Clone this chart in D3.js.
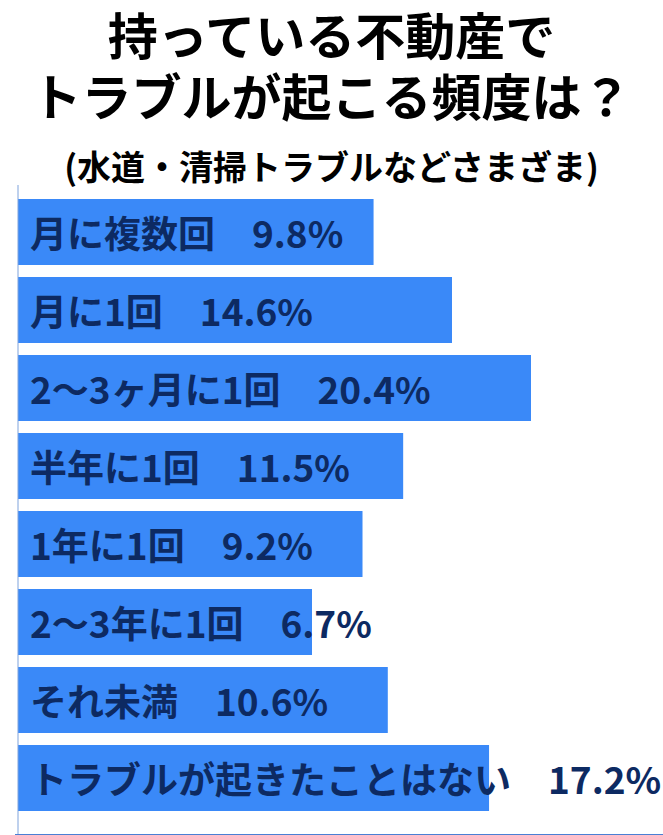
<!DOCTYPE html>
<html>
<head>
<meta charset="utf-8">
<script src="https://cdn.jsdelivr.net/npm/d3@7"></script>
<style>
  body { margin: 0; background: #fff; }
  svg text { font-family: "Noto Sans CJK JP", "Noto Sans", sans-serif; font-weight: bold; }
</style>
</head>
<body>
<svg id="chart" width="663" height="835"></svg>
<script>
// data
const titleLines = ['持っている不動産で', 'トラブルが起こる頻度は？'];
const subtitle = '(水道・清掃トラブルなどさまざま)';
const categories = ['月に複数回', '月に1回', '2～3ヶ月に1回', '半年に1回', '1年に1回', '2～3年に1回', 'それ未満', 'トラブルが起きたことはない'];
const percents = [9.8, 14.6, 20.4, 11.5, 9.2, 6.7, 10.6, 17.2];

const svg = d3.select('#chart'),
    width = +svg.attr('width'),
    height = +svg.attr('height'),
    left = 18;

// title
svg.selectAll('.title')
    .data(titleLines)
    .enter().append('text')
    .attr('class', 'title')
    .attr('x', width / 2)
    .attr('y', (d, i) => 33 + i * 61)
    .attr('text-anchor', 'middle')
    .attr('dominant-baseline', 'central')
    .attr('font-size', 50)
    .attr('fill', '#000')
    .text(d => d);

svg.append('text')
    .attr('x', width / 2)
    .attr('y', 165)
    .attr('text-anchor', 'middle')
    .attr('dominant-baseline', 'central')
    .attr('font-size', 34)
    .attr('fill', '#000')
    .text(subtitle);

// scales
const y = d3.scaleBand()
    .domain(categories)
    .range([193, 817])
    .paddingInner(0.154)
    .paddingOuter(0.077);

const x = d3.scaleSqrt()
    .domain([0, d3.max(percents)])
    .range([0, 513]);

const rows = categories.map((c, i) => ({ cat: c, value: percents[i] }));

// bars
svg.selectAll('.bar')
    .data(rows)
    .enter().append('rect')
    .attr('class', 'bar')
    .attr('x', left)
    .attr('y', d => y(d.cat))
    .attr('width', d => x(d.value))
    .attr('height', y.bandwidth())
    .attr('fill', '#3a89f8');

// axis lines
svg.append('line')
    .attr('x1', left).attr('x2', left)
    .attr('y1', 185).attr('y2', 834)
    .attr('stroke', '#7fa3dc')
    .attr('stroke-width', 1);

svg.append('line')
    .attr('x1', 15).attr('x2', width)
    .attr('y1', 834.5).attr('y2', 834.5)
    .attr('stroke', '#4a7fd4')
    .attr('stroke-width', 1);

// labels: category, wide gap, value
svg.selectAll('.bar-label')
    .data(rows)
    .enter().append('text')
    .attr('class', 'bar-label')
    .attr('x', 30)
    .attr('y', d => y(d.cat) + y.bandwidth() / 2)
    .attr('dominant-baseline', 'central')
    .attr('font-size', 37)
    .attr('fill', '#0d2a62')
    .text(d => d.cat + '　' + d.value.toFixed(1) + '%');
</script>
</body>
</html>
